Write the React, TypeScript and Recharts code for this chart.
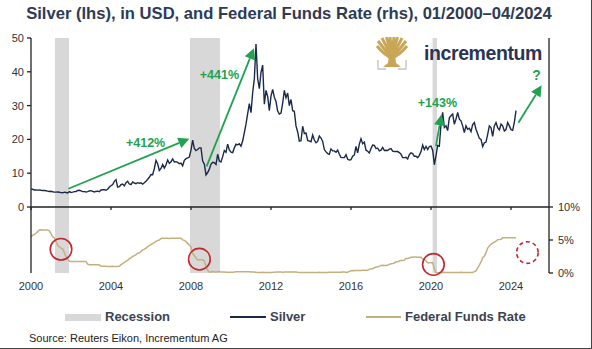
import React from "react";
import {
  ComposedChart,
  Line,
  XAxis,
  YAxis,
  ReferenceArea,
  ReferenceLine,
  ReferenceDot,
} from "recharts";

// Silber, Monatswerte in USD (Jan 2000 – Apr 2024)
const silverMonthly = [
  // 2000
  5.3, 5.25, 5.05, 5.05, 5.0, 5.05, 4.95, 4.9, 4.9, 4.8, 4.7, 4.6,
  // 2001
  4.65, 4.5, 4.4, 4.4, 4.45, 4.35, 4.25, 4.2, 4.4, 4.3, 4.15, 4.55,
  // 2002
  4.3, 4.4, 4.55, 4.6, 4.9, 4.95, 4.75, 4.55, 4.55, 4.45, 4.55, 4.75,
  // 2003
  4.85, 4.65, 4.45, 4.6, 4.7, 4.55, 5.05, 5.1, 5.15, 4.95, 5.25, 5.9,
  // 2004
  6.3, 6.65, 7.6, 8.1, 5.9, 6.0, 6.6, 6.8, 6.25, 7.2, 7.6, 6.8,
  // 2005
  6.6, 7.4, 7.1, 6.9, 7.2, 7.05, 7.15, 6.75, 7.2, 7.65, 8.2, 8.8,
  // 2006
  9.6, 9.55, 11.4, 13.8, 12.8, 10.8, 11.4, 12.6, 11.5, 12.5, 13.9, 12.9,
  // 2007
  13.4, 14.2, 13.3, 13.4, 13.2, 12.8, 13.0, 12.2, 13.8, 14.3, 14.5, 14.8,
  // 2008
  16.8, 19.8, 17.3, 16.7, 17.0, 17.5, 17.5, 13.6, 12.7, 9.5, 10.2, 11.2,
  // 2009
  12.7, 13.2, 13.1, 12.6, 15.6, 13.6, 13.3, 14.9, 16.7, 16.2, 18.6, 16.9,
  // 2010
  16.2, 16.1, 17.5, 18.6, 18.4, 18.7, 18.0, 19.5, 22.0, 24.5, 27.6, 30.6,
  // 2011
  27.9, 33.8, 37.9, 48.2, 38.0, 35.0, 39.8, 42.0, 30.4, 34.5, 32.7, 28.5,
  // 2012
  32.8, 34.8, 32.5, 31.2, 28.4, 27.5, 27.8, 30.7, 34.5, 32.3, 33.7, 30.0,
  // 2013
  31.8, 28.5, 28.3, 24.0, 22.2, 19.5, 19.6, 23.9, 21.7, 21.9, 19.7, 19.5,
  // 2014
  19.3, 21.3, 19.8, 19.0, 19.4, 21.0, 20.4, 19.4, 17.0, 16.3, 15.8, 15.6,
  // 2015
  17.2, 16.6, 16.6, 16.2, 16.8, 15.6, 14.7, 14.6, 14.6, 15.5, 14.1, 13.9,
  // 2016
  14.0, 15.0, 15.4, 17.9, 16.0, 18.6, 20.2, 18.7, 19.2, 16.8, 16.5, 16.0,
  // 2017
  17.3, 18.3, 18.2, 17.3, 17.4, 16.6, 16.8, 17.6, 16.7, 16.8, 16.7, 17.1,
  // 2018
  17.3, 16.5, 16.4, 16.4, 16.4, 16.1, 15.6, 14.6, 14.6, 14.7, 14.2, 15.5,
  // 2019
  16.0, 15.8, 15.0, 15.0, 14.6, 15.3, 16.4, 18.3, 17.0, 17.9, 17.0, 17.9,
  // 2020
  18.0, 16.8, 12.5, 15.2, 18.2, 18.0, 24.5, 28.0, 23.5, 24.0, 22.6, 26.4,
  // 2021
  27.0, 27.5, 24.5, 26.0, 28.0, 26.0, 25.5, 24.0, 22.0, 24.0, 23.0, 23.3,
  // 2022
  22.3, 24.4, 25.0, 23.0, 21.7, 20.3, 20.0, 17.9, 19.0, 19.2, 21.5, 24.0,
  // 2023
  23.5, 20.9, 24.0, 25.0, 23.5, 22.8, 24.5, 24.0, 22.5, 22.9, 25.0, 24.0,
  // 2024
  22.9, 22.7, 25.0, 28.5,
];

// Federal Funds Rate in %, Monatswerte
const fedFundsMonthly = [
  5.45, 5.73, 5.85, 6.02, 6.27, 6.53, 6.54, 6.5, 6.52, 6.51, 6.51, 6.4,
  5.98, 5.49, 5.31, 4.8, 4.21, 3.97, 3.77, 3.65, 3.07, 2.49, 2.09, 1.82,
  1.73, 1.74, 1.73, 1.75, 1.75, 1.75, 1.73, 1.74, 1.75, 1.75, 1.34, 1.24,
  1.24, 1.26, 1.25, 1.26, 1.26, 1.22, 1.01, 1.03, 1.01, 1.01, 1.0, 0.98,
  1.0, 1.01, 1.0, 1.0, 1.0, 1.03, 1.26, 1.43, 1.61, 1.76, 1.93, 2.16,
  2.28, 2.5, 2.63, 2.79, 3.0, 3.04, 3.26, 3.5, 3.62, 3.78, 4.0, 4.16,
  4.29, 4.49, 4.59, 4.79, 4.94, 4.99, 5.24, 5.25, 5.25, 5.25, 5.25, 5.24,
  5.25, 5.26, 5.26, 5.25, 5.25, 5.25, 5.26, 5.02, 4.94, 4.76, 4.49, 4.24,
  3.94, 2.98, 2.61, 2.28, 1.98, 2.0, 2.01, 2.0, 1.81, 0.97, 0.39, 0.16,
  0.15, 0.22, 0.18, 0.15, 0.18, 0.21, 0.16, 0.16, 0.15, 0.12, 0.12, 0.12,
  0.11, 0.13, 0.16, 0.2, 0.2, 0.18, 0.18, 0.19, 0.19, 0.19, 0.19, 0.18,
  0.17, 0.16, 0.14, 0.1, 0.09, 0.09, 0.07, 0.1, 0.08, 0.07, 0.08, 0.07,
  0.08, 0.1, 0.13, 0.14, 0.16, 0.16, 0.16, 0.13, 0.14, 0.16, 0.16, 0.16,
  0.14, 0.15, 0.14, 0.15, 0.11, 0.09, 0.09, 0.08, 0.08, 0.09, 0.08, 0.09,
  0.07, 0.07, 0.08, 0.09, 0.09, 0.1, 0.09, 0.09, 0.09, 0.09, 0.09, 0.12,
  0.11, 0.11, 0.11, 0.12, 0.12, 0.13, 0.13, 0.14, 0.14, 0.12, 0.12, 0.24,
  0.34, 0.38, 0.36, 0.37, 0.37, 0.38, 0.39, 0.4, 0.4, 0.4, 0.41, 0.54,
  0.65, 0.66, 0.79, 0.9, 0.91, 1.04, 1.15, 1.16, 1.15, 1.15, 1.16, 1.3,
  1.41, 1.42, 1.51, 1.69, 1.7, 1.82, 1.91, 1.91, 1.95, 2.19, 2.2, 2.27,
  2.4, 2.4, 2.41, 2.42, 2.39, 2.38, 2.4, 2.13, 2.04, 1.83, 1.55, 1.55,
  1.55, 1.58, 0.65, 0.05, 0.05, 0.08, 0.09, 0.1, 0.09, 0.09, 0.09, 0.09,
  0.09, 0.08, 0.07, 0.07, 0.06, 0.08, 0.1, 0.09, 0.08, 0.08, 0.08, 0.08,
  0.08, 0.08, 0.2, 0.33, 0.77, 1.21, 1.68, 2.33, 2.56, 3.08, 3.78, 4.1,
  4.33, 4.57, 4.65, 4.83, 5.06, 5.08, 5.12, 5.33, 5.33, 5.33, 5.33, 5.33,
  5.33, 5.33, 5.33, 5.33,
];

const recessions: [number, number][] = [
  [2001.2, 2001.9],
  [2007.95, 2009.45],
  [2020.08, 2020.3],
];

const yearTicks = [2000, 2004, 2008, 2012, 2016, 2020, 2024];
const silverTicks = [0, 10, 20, 30, 40, 50];
const rateTicks = [0, 5, 10];

// grüne Pfeile: [x1, y1, x2, y2]
const arrows = [
  [2001.87, 5.4, 2007.92, 20.2],
  [2008.78, 12, 2011.15, 47],
  [2020.25, 18, 2020.52, 27.4],
  [2024.37, 24.9, 2025.53, 36],
];
const arrowLabels = [
  { x: 2005.73, y: 19, text: "+412%" },
  { x: 2009.42, y: 39, text: "+441%" },
  { x: 2020.32, y: 30.9, text: "+143%" },
  { x: 2025.28, y: 39, text: "?" },
];
// rote Kreise im Zinspanel
const circles = [
  { x: 2001.5, y: 3.6, dashed: false },
  { x: 2008.42, y: 2.1, dashed: false },
  { x: 2020.12, y: 1.3, dashed: false },
  { x: 2024.82, y: 3.1, dashed: true },
];

const rows = silverMonthly.map((s, i) => ({
  t: 2000 + i / 12,
  silver: s,
  ffr: fedFundsMonthly[i],
}));

const FONT = '"Liberation Sans", Arial, sans-serif';
const GREEN = "#22a150";
const RED = "#c3262d";
const NAVY = "#1b2a4a";
const TAN = "#c4b07e";
const BAND = "#d8d8d8";
const AXIS = "#222";
const DOMAIN: [number, number] = [2000, 2025.9];
const TICK_STYLE = { fontSize: 11, fill: "#333", fontFamily: FONT };

function Arrow(p: any) {
  const { x1, y1, x2, y2 } = p;
  const a = Math.atan2(y2 - y1, x2 - x1);
  const L = 11;
  const W = 5.5;
  const bx = x2 - L * Math.cos(a);
  const by = y2 - L * Math.sin(a);
  const px = -Math.sin(a) * W;
  const py = Math.cos(a) * W;
  return (
    <g>
      <line x1={x1} y1={y1} x2={bx} y2={by} stroke={GREEN} strokeWidth={1.8} />
      <polygon
        points={`${x2},${y2} ${bx + px},${by + py} ${bx - px},${by - py}`}
        fill={GREEN}
      />
    </g>
  );
}

function TreeLogo() {
  const gold = "#c9a655";
  const tips = [
    [1, 9], [2, 4], [6, 1], [10.5, 0], [14, 0], [18, 0], [21.5, 0], [26, 1], [30, 4], [31, 9],
  ];
  return (
    <svg width={34} height={34} style={{ position: "absolute", left: 376, top: 37 }}>
      {tips.map(([x, y], i) => (
        <path key={i} d={`M16 21 Q${(16 + x) / 2} ${y + 9} ${x} ${y}`} stroke={gold} strokeWidth={3} fill="none" />
      ))}
      <path d="M16 21 L10 12 L22 12 Z" fill={gold} />
      <path d="M13 17 L19 17 L20 26 L25 30 L7 30 L12 26 Z" fill={gold} />
      <path d="M2 23 L2 32 L10 32" stroke="#d2d2d2" strokeWidth={1.8} fill="none" />
      <path d="M30 23 L30 32 L22 32" stroke="#d2d2d2" strokeWidth={1.8} fill="none" />
    </svg>
  );
}

function LegendItem({ left, label, swatch }: { left: number; label: string; swatch: React.ReactNode }) {
  return (
    <div style={{ position: "absolute", left, top: 310, height: 14, display: "flex", alignItems: "center" }}>
      {swatch}
      <span style={{ marginLeft: 4, fontSize: 13, fontWeight: "bold", color: "#3c4350", lineHeight: "14px" }}>
        {label}
      </span>
    </div>
  );
}

export default function App() {
  return (
    <div
      style={{
        position: "absolute",
        left: 0,
        top: 0,
        width: 592,
        height: 349,
        boxSizing: "border-box",
        borderRight: "1px solid #444",
        borderBottom: "1px solid #444",
        background: "#fff",
        fontFamily: FONT,
        overflow: "hidden",
      }}
    >
      {/* Zinspanel unten */}
      <div style={{ position: "absolute", left: 0, top: 200 }}>
        <ComposedChart width={592} height={100} data={rows} margin={{ top: 7, right: 0, bottom: 0, left: 0 }}>
          <XAxis
            dataKey="t"
            type="number"
            domain={DOMAIN}
            ticks={yearTicks}
            interval={0}
            allowDataOverflow
            height={27}
            axisLine={false}
            tickLine={false}
            tickSize={6}
            tickMargin={3}
            tick={TICK_STYLE}
          />
          <YAxis
            yAxisId="l"
            domain={[0, 10]}
            ticks={rateTicks}
            width={31}
            tickSize={4}
            axisLine={{ stroke: AXIS, strokeWidth: 1.3 }}
            tickLine={{ stroke: AXIS, strokeWidth: 1.3 }}
            tickFormatter={() => ""}
          />
          <YAxis
            yAxisId="r"
            orientation="right"
            domain={[0, 10]}
            ticks={rateTicks}
            interval={0}
            width={43}
            tickSize={4}
            tickMargin={5}
            axisLine={{ stroke: AXIS, strokeWidth: 1.3 }}
            tickLine={{ stroke: AXIS, strokeWidth: 1.3 }}
            tickFormatter={(v: number) => `${v}%`}
            tick={TICK_STYLE}
          />
          {recessions.map(([a, b], i) => (
            <ReferenceArea key={i} yAxisId="r" x1={a} x2={b} y1={0} y2={10} fill={BAND} fillOpacity={1} stroke="none" />
          ))}
          <Line
            yAxisId="r"
            dataKey="ffr"
            type="linear"
            stroke={TAN}
            strokeWidth={1.5}
            dot={false}
            isAnimationActive={false}
          />
          {circles.map((c, i) => (
            <ReferenceDot
              key={i}
              yAxisId="r"
              x={c.x}
              y={c.y}
              ifOverflow="visible"
              shape={(p: any) => (
                <circle
                  cx={p.cx}
                  cy={p.cy}
                  r={10.8}
                  fill="none"
                  stroke={RED}
                  strokeWidth={1.6}
                  strokeDasharray={c.dashed ? "4 3" : undefined}
                />
              )}
            />
          ))}
        </ComposedChart>
      </div>

      {/* Silberpanel oben */}
      <div style={{ position: "absolute", left: 0, top: 0 }}>
        <ComposedChart width={592} height={215} data={rows} margin={{ top: 38, right: 0, bottom: 0, left: 0 }}>
          <XAxis
            dataKey="t"
            type="number"
            domain={DOMAIN}
            ticks={yearTicks}
            interval={0}
            allowDataOverflow
            height={8}
            tickSize={3}
            axisLine={{ stroke: AXIS, strokeWidth: 1.4 }}
            tickLine={{ stroke: AXIS, strokeWidth: 1.3 }}
            tickFormatter={() => ""}
          />
          <YAxis
            yAxisId="l"
            domain={[0, 50]}
            ticks={silverTicks}
            interval={0}
            width={31}
            tickSize={4}
            tickMargin={3}
            axisLine={{ stroke: AXIS, strokeWidth: 1.3 }}
            tickLine={{ stroke: AXIS, strokeWidth: 1.3 }}
            tick={TICK_STYLE}
          />
          <YAxis
            yAxisId="r"
            orientation="right"
            domain={[0, 50]}
            ticks={silverTicks}
            width={43}
            tickSize={4}
            axisLine={{ stroke: AXIS, strokeWidth: 1.3 }}
            tickLine={{ stroke: AXIS, strokeWidth: 1.3 }}
            tickFormatter={() => ""}
          />
          {recessions.map(([a, b], i) => (
            <ReferenceArea key={i} yAxisId="l" x1={a} x2={b} y1={0} y2={50} fill={BAND} fillOpacity={1} stroke="none" />
          ))}
          <Line
            yAxisId="l"
            dataKey="silver"
            type="linear"
            stroke={NAVY}
            strokeWidth={1.4}
            dot={false}
            isAnimationActive={false}
          />
          {arrows.map(([x1, y1, x2, y2], i) => (
            <ReferenceLine
              key={i}
              yAxisId="l"
              ifOverflow="visible"
              segment={[{ x: x1, y: y1 }, { x: x2, y: y2 }]}
              shape={Arrow}
            />
          ))}
          {arrowLabels.map((l, i) => (
            <ReferenceDot
              key={i}
              yAxisId="l"
              x={l.x}
              y={l.y}
              ifOverflow="visible"
              shape={(p: any) => (
                <text
                  x={p.cx}
                  y={p.cy}
                  textAnchor="middle"
                  dominantBaseline="central"
                  fill={GREEN}
                  fontSize={l.text === "?" ? 14 : 12.5}
                  fontWeight="bold"
                  fontFamily={FONT}
                >
                  {l.text}
                </text>
              )}
            />
          ))}
        </ComposedChart>
      </div>

      {/* Titel */}
      <div
        style={{
          position: "absolute",
          left: 0,
          top: 4,
          width: 578,
          textAlign: "center",
          fontSize: 16.6,
          fontWeight: "bold",
          lineHeight: "20px",
          color: "#2e3b55",
          whiteSpace: "nowrap",
        }}
      >
        Silver (lhs), in USD, and Federal Funds Rate (rhs), 01/2000–04/2024
      </div>

      {/* Logo */}
      <TreeLogo />
      <div
        style={{
          position: "absolute",
          left: 424,
          top: 42,
          fontSize: 19.5,
          fontWeight: "bold",
          lineHeight: "22px",
          color: "#2b3454",
          letterSpacing: -0.4,
        }}
      >
        incrementum
      </div>

      {/* Legende */}
      <LegendItem
        left={65}
        label="Recession"
        swatch={<div style={{ width: 36, height: 7, background: BAND }} />}
      />
      <LegendItem
        left={230}
        label="Silver"
        swatch={<div style={{ width: 36, height: 1.6, background: NAVY }} />}
      />
      <LegendItem
        left={366}
        label="Federal Funds Rate"
        swatch={<div style={{ width: 35, height: 1.6, background: TAN }} />}
      />

      {/* Quelle */}
      <div
        style={{
          position: "absolute",
          left: 29,
          top: 331,
          fontSize: 11,
          lineHeight: "14px",
          color: "#222",
        }}
      >
        Source: Reuters Eikon, Incrementum AG
      </div>
    </div>
  );
}
